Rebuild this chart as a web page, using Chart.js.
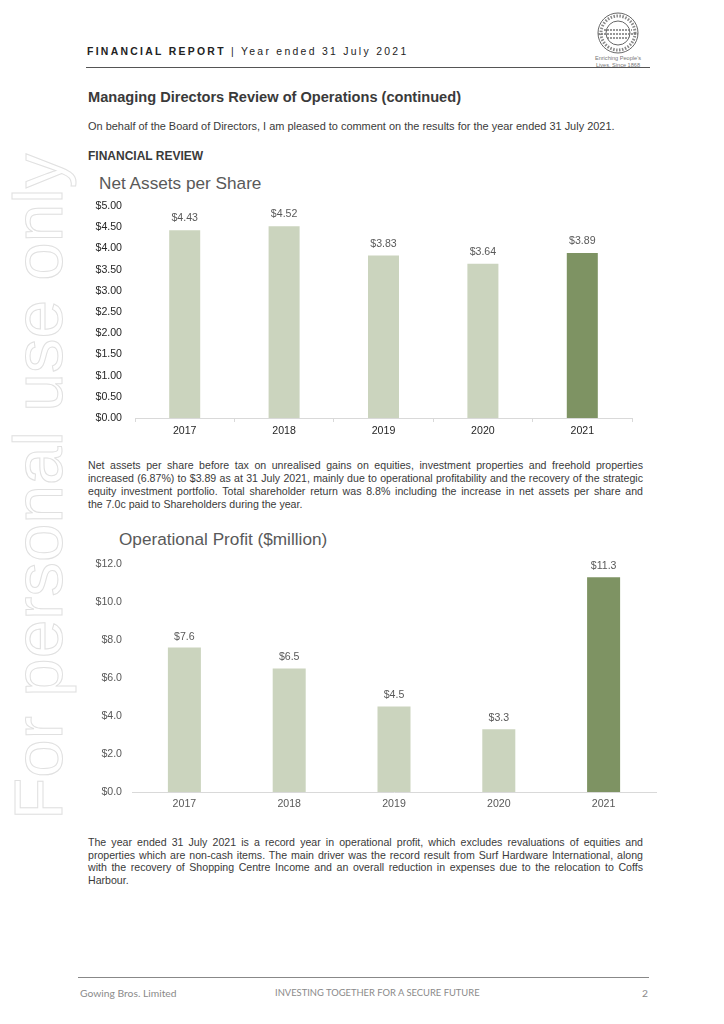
<!DOCTYPE html>
<html>
<head>
<meta charset="utf-8">
<title>Financial Report</title>
<style>
  html, body { margin: 0; padding: 0; background: #fff; }
  #page { position: relative; width: 724px; height: 1024px; overflow: hidden; font-family: "Liberation Sans", Arial, sans-serif; color: #3a3a3a; }
  #page > * { position: absolute; }
  .t { white-space: nowrap; line-height: 14px; font-size: 10.95px; }
  .j { left: 88px; width: 555px; font-size: 10.6px; text-align: justify; text-align-last: justify; white-space: normal; }
  .chart-title { color: #595959; line-height: 22px; }
  .rule { height: 1px; }
  #watermark {
    left: 0; top: 0; font-size: 69.3px; line-height: 70px; white-space: nowrap;
    color: transparent; -webkit-text-stroke: 1px #e0e0e0;
    transform-origin: 0 0; transform: translate(3px, 820px) rotate(-90deg);
  }
  .foot { font-family: Lato, "Open Sans", sans-serif; color: #8a8a8a; font-size: 10.3px; line-height: 14px; white-space: nowrap; }
  canvas { display: block; }
</style>
</head>
<body>
<div id="page">
  <div id="watermark">For personal use only</div>

  <div class="t" style="left:87px;top:45px;font-size:10.4px;letter-spacing:2.3px;color:#222"><b>FINANCIAL REPORT</b> | Year ended 31 July 2021</div>
  <div class="rule" style="left:86px;top:67px;width:564px;background:#555"></div>

  <svg style="left:595px;top:10px" width="46" height="46" viewBox="0 0 46 46" fill="none" stroke="#666">
    <circle cx="23" cy="23" r="20" stroke-width="1"/>
    <circle cx="23" cy="23" r="17" stroke-width="3" stroke-dasharray="1.5 1.5" stroke="#888"/>
    <circle cx="23" cy="23" r="12" stroke-width="1"/>
    <path d="M3 24h40M9 20h28M12 28h22" stroke-width="1.5" stroke="#777" stroke-dasharray="2 1"/>
  </svg>
  <div class="t" style="left:590px;top:55px;width:56px;text-align:center;font-size:5.6px;line-height:6.5px;color:#777">Enriching People's<br>Lives. Since 1868</div>

  <div class="t" style="left:88px;top:88px;font-size:14.6px;line-height:18px;font-weight:bold;color:#3a3a3a">Managing Directors Review of Operations (continued)</div>
  <div class="t" style="left:88px;top:119px">On behalf of the Board of Directors, I am pleased to comment on the results for the year ended 31 July 2021.</div>
  <div class="t" style="left:88px;top:149px;font-weight:bold;font-size:12px">FINANCIAL REVIEW</div>

  <div class="t chart-title" style="left:99px;top:172px;font-size:17.2px">Net Assets per Share</div>
  <canvas id="chart-assets" width="552" height="244" style="position:absolute;left:88px;top:196px"></canvas>

  <div class="t j" style="top:458px">Net assets per share before tax on unrealised gains on equities, investment properties and freehold properties</div>
  <div class="t j" style="top:471px">increased (6.87%) to $3.89 as at 31 July 2021, mainly due to operational profitability and the recovery of the strategic</div>
  <div class="t j" style="top:484px">equity investment portfolio. Total shareholder return was 8.8% including the increase in net assets per share and</div>
  <div class="t" style="left:88px;top:497px;font-size:10.6px">the 7.0c paid to Shareholders during the year.</div>

  <div class="t chart-title" style="left:119px;top:528px;font-size:17.2px">Operational Profit ($million)</div>
  <canvas id="chart-profit" width="576" height="262" style="position:absolute;left:88px;top:554px"></canvas>

  <div class="t j" style="top:835px">The year ended 31 July 2021 is a record year in operational profit, which excludes revaluations of equities and</div>
  <div class="t j" style="top:848px">properties which are non-cash items. The main driver was the record result from Surf Hardware International, along</div>
  <div class="t j" style="top:860px">with the recovery of Shopping Centre Income and an overall reduction in expenses due to the relocation to Coffs</div>
  <div class="t" style="left:88px;top:873px;font-size:10.6px">Harbour.</div>

  <div class="rule" style="left:78px;top:977px;width:571px;background:#888"></div>
  <div class="foot" style="left:80px;top:986px">Gowing Bros. Limited</div>
  <div class="foot" style="left:275px;top:986px;font-size:9.4px">INVESTING TOGETHER FOR A SECURE FUTURE</div>
  <div class="foot" style="left:642px;top:986px">2</div>
</div>

<script src="https://cdn.jsdelivr.net/npm/chart.js@4/dist/chart.umd.min.js"></script>
<script>
'use strict';

/* ── DATA ── */
const years     = ['2017', '2018', '2019', '2020', '2021'];
const netAssets = [4.43, 4.52, 3.83, 3.64, 3.89];
const opProfit  = [7.6, 6.5, 4.5, 3.3, 11.3];

/* ── COLOURS ── */
const PALE = '#CBD4BE';
const DARK = '#7E9363';
const barColors = years.map((y, i) => i === years.length - 1 ? DARK : PALE);

/* ── VALUE LABELS ── */
const valueLabels = {
  id: 'valueLabels',
  afterDatasetsDraw(chart, args, opts) {
    const ctx = chart.ctx;
    const values = chart.data.datasets[0].data;
    ctx.save();
    ctx.font = '10.6px "Liberation Sans", Arial, sans-serif';
    ctx.fillStyle = '#595959';
    ctx.textAlign = 'center';
    ctx.textBaseline = 'middle';
    chart.getDatasetMeta(0).data.forEach((bar, i) => {
      ctx.fillText('$' + values[i].toFixed(opts.decimals), bar.x, bar.y - opts.gap);
    });
    ctx.restore();
  },
};

/* ── CHART BUILDER ── */
function barChart(id, values, o) {
  return new Chart(document.getElementById(id), {
    type: 'bar',
    data: {
      labels: years,
      datasets: [{
        data: values,
        backgroundColor: barColors,
        categoryPercentage: 1,
        barPercentage: o.barPct,
      }],
    },
    plugins: [valueLabels],
    options: {
      responsive: false,
      devicePixelRatio: 1,
      animation: false,
      layout: { padding: { top: 10, right: 8, left: 0, bottom: 0 } },
      plugins: {
        legend: { display: false },
        tooltip: { enabled: false },
        valueLabels: { decimals: o.decimals, gap: o.gap },
      },
      scales: {
        x: {
          afterFit: s => { s.height = o.xHeight; s.paddingLeft = 0; s.paddingRight = 0; },
          border: { color: '#D9D9D9' },
          grid: { drawOnChartArea: false, drawTicks: o.tickLen > 0, tickLength: o.tickLen, color: '#D9D9D9' },
          ticks: { color: o.xColor, padding: o.xPad, maxRotation: 0, font: { family: '"Liberation Sans", Arial, sans-serif', size: 10.6 } },
        },
        y: {
          min: 0,
          max: o.max,
          /* the half-label autopadding would push the plot area away from the fixed top */
          afterFit: s => { s.width = o.yWidth; s.paddingTop = 0; s.paddingBottom = 0; },
          border: { display: false },
          grid: { display: false, drawTicks: false },
          ticks: {
            stepSize: o.step,
            color: o.yColor,
            padding: o.yPad,
            font: { family: '"Liberation Sans", Arial, sans-serif', size: 10.6 },
            callback: v => '$' + v.toFixed(o.decimals),
          },
        },
      },
    },
  });
}

/* ── INIT ── */
barChart('chart-assets', netAssets, {
  barPct: 0.312, decimals: 2, gap: 12, max: 5, step: 0.5,
  xHeight: 22, yWidth: 47, tickLen: 4, xPad: 3, yPad: 13,
  xColor: '#262626', yColor: '#262626',
});

barChart('chart-profit', opProfit, {
  barPct: 0.315, decimals: 1, gap: 11, max: 12, step: 2,
  xHeight: 24, yWidth: 44, tickLen: 0, xPad: 6, yPad: 10,
  xColor: '#595959', yColor: '#595959',
});
</script>
</body>
</html>
